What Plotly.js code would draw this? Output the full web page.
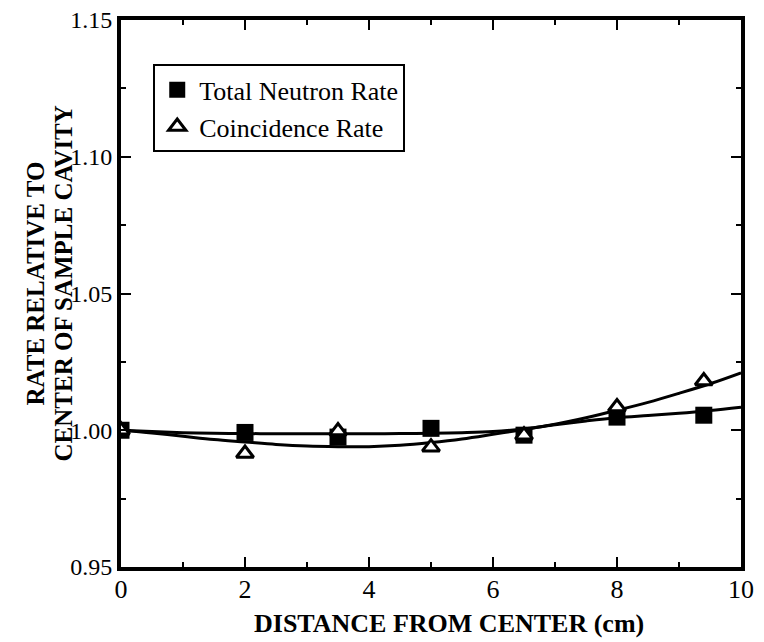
<!DOCTYPE html>
<html>
<head>
<meta charset="utf-8">
<script src="https://cdn.plot.ly/plotly-3.0.1.min.js"></script>
<style>html,body{margin:0;padding:0;background:#fff;}#chart{width:764px;height:642px;}</style>
</head>
<body>
<div id="chart"></div>
<script>
// Measured points
const pointX = [0, 2, 3.5, 5, 6.5, 8, 9.4];
const totalRate = [1.000, 0.9992, 0.9975, 1.0007, 0.9982, 1.0048, 1.0055];
const coincRate = [1.000, 0.9915, 0.9997, 0.9938, 0.9982, 1.0085, 1.018];

// Fitted curves
const curveX = [0, 0.5, 1, 1.5, 2, 2.5, 3, 3.5, 4, 4.5, 5, 5.5, 6, 6.5, 7, 7.5, 8, 8.5, 9, 9.5, 10];
const totalCurve = [1.000, 0.9995, 0.9991, 0.9989, 0.9988, 0.9987, 0.9987, 0.9987, 0.9987, 0.9988, 0.9989, 0.9991, 0.9995, 1.0005, 1.0020, 1.0034, 1.0046, 1.0054, 1.0062, 1.0072, 1.0084];
const coincCurve = [1.000, 0.9990, 0.9978, 0.9966, 0.9957, 0.9948, 0.9942, 0.9940, 0.9940, 0.9945, 0.9955, 0.9968, 0.9985, 1.0003, 1.0022, 1.0046, 1.0073, 1.0102, 1.0135, 1.0170, 1.0210];

const xTicks = [0, 2, 4, 6, 8, 10];
const yTicks = [0.95, 1.00, 1.05, 1.10, 1.15];
const yTitleLines = ['RATE RELATIVE TO', 'CENTER OF SAMPLE CAVITY'];
const xTitle = 'DISTANCE FROM CENTER (cm)';

const FONT = "Liberation Serif";

const traces = [
  {x: curveX, y: totalCurve, mode: 'lines', line: {color: '#000', width: 3, shape: 'spline'}, showlegend: false, hoverinfo: 'skip'},
  {x: curveX, y: coincCurve, mode: 'lines', line: {color: '#000', width: 3, shape: 'spline'}, showlegend: false, hoverinfo: 'skip'},
  {x: pointX, y: totalRate, mode: 'markers', name: 'Total Neutron Rate',
   marker: {symbol: 'square', size: 17, color: '#000'}},
  {x: pointX, y: coincRate, mode: 'markers', name: 'Coincidence Rate',
   marker: {symbol: 'triangle-up', size: 15, color: '#fff', line: {color: '#000', width: 3}}}
];

const layout = {
  width: 764, height: 642,
  margin: {l: 121, r: 23, t: 20, b: 75},
  paper_bgcolor: '#fff', plot_bgcolor: '#fff',
  font: {family: FONT, color: '#000', size: 22},
  showlegend: true,
  legend: {x: 0.052, y: 0.919, xanchor: 'left', yanchor: 'top',
           bordercolor: '#000', borderwidth: 2, bgcolor: '#fff',
           font: {family: FONT, size: 26, color: '#000'},
           tracegroupgap: 0, itemwidth: 34},
  xaxis: {
    range: [0, 10], tickvals: xTicks, ticktext: xTicks.map(String),
    ticks: 'inside', ticklen: 10, tickwidth: 2, tickcolor: '#000',
    minor: {dtick: 1, ticks: 'inside', ticklen: 5, tickwidth: 2, tickcolor: '#000'},
    showline: true, linecolor: '#000', linewidth: 4, mirror: 'allticks',
    showgrid: false, zeroline: false,
    tickfont: {family: FONT, size: 26},
    ticklabelstandoff: -4
  },
  yaxis: {
    range: [0.95, 1.15], tickvals: yTicks, ticktext: yTicks.map(v => v.toFixed(2)),
    ticks: 'inside', ticklen: 10, tickwidth: 2, tickcolor: '#000',
    minor: {dtick: 0.025, ticks: 'inside', ticklen: 5, tickwidth: 2, tickcolor: '#000'},
    showline: true, linecolor: '#000', linewidth: 4, mirror: 'allticks',
    showgrid: false, zeroline: false,
    tickfont: {family: FONT, size: 24},
    ticklabelstandoff: 0
  },
  annotations: [
    {text: '<b>' + yTitleLines[0] + '</b>', xref: 'paper', yref: 'paper', x: -0.138, y: 0.519,
     xanchor: 'center', yanchor: 'middle', textangle: -90, showarrow: false,
     font: {family: FONT, size: 25, color: '#000'}},
    {text: '<b>' + yTitleLines[1] + '</b>', xref: 'paper', yref: 'paper', x: -0.093, y: 0.519,
     xanchor: 'center', yanchor: 'middle', textangle: -90, showarrow: false,
     font: {family: FONT, size: 25, color: '#000'}},
    {text: '<b>' + xTitle + '</b>', xref: 'paper', yref: 'paper', x: 0.529, y: -0.104,
     xanchor: 'center', yanchor: 'middle', showarrow: false,
     font: {family: FONT, size: 26, color: '#000'}}
  ]
};

Plotly.newPlot('chart', traces, layout, {displayModeBar: false, staticPlot: true});
</script>
</body>
</html>
